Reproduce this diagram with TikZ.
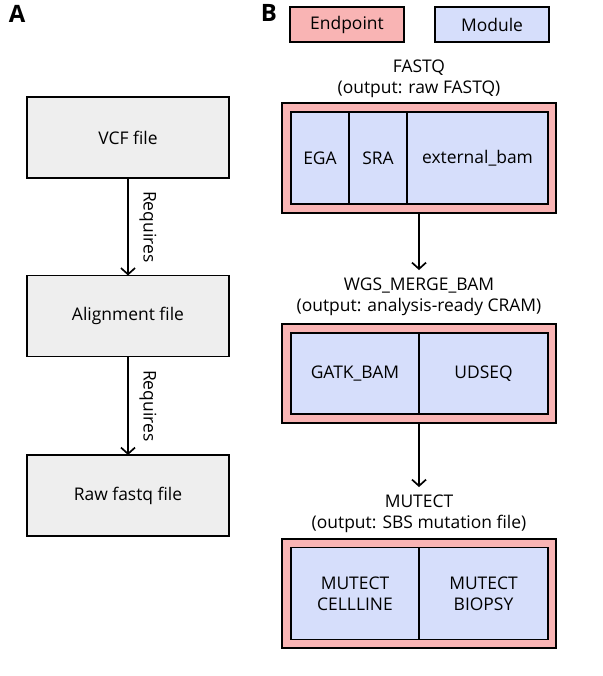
\documentclass[tikz,border=0pt]{standalone}
\usepackage{fontspec}
\setmainfont{Open Sans}
\usetikzlibrary{arrows.meta}
\definecolor{endpointred}{RGB}{249,180,180}
\definecolor{moduleblue}{RGB}{214,222,251}
\definecolor{stepgray}{RGB}{238,238,238}
\begin{document}
\begin{tikzpicture}[x=0.025cm,y=-0.025cm,
    font=\fontsize{12.4}{15}\selectfont,
    every node/.style={inner sep=0pt, outer sep=0pt},
    filebox/.style={draw, line width=0.8pt, fill=stepgray, minimum width=202*0.025cm, minimum height=81*0.025cm},
    endpoint/.style={draw, line width=0.8pt, fill=endpointred, minimum width=274*0.025cm},
    module/.style={draw, line width=0.8pt, fill=moduleblue, align=center},
    needs/.style={-{Straight Barb[length=4.5pt,width=10pt,line width=1.2pt]}, line width=1.3pt}
]
\useasboundingbox (0,0) rectangle (603,676);

% panel letters
\node[font=\fontsize{17}{17}\selectfont\bfseries] (A) at (17,14) {A};
\node[font=\fontsize{17}{17}\selectfont\bfseries] (B) at (269,13) {B};

% panel A
\node[filebox] (vcf) at (128,137.5) {VCF file};
\node[filebox] (align) at (128,316) {Alignment file};
\node[filebox] (raw) at (128,495.5) {Raw fastq file};
\draw[needs] (vcf) -- (align) node[midway, xshift=20*0.025cm, rotate=-90] {Requires};
\draw[needs] (align) -- (raw) node[midway, xshift=20*0.025cm, rotate=-90] {Requires};

% legend
\node[endpoint, minimum width=114*0.025cm, minimum height=35*0.025cm] (keyend) at (347,24.5) {Endpoint};
\node[module, minimum width=114*0.025cm, minimum height=35*0.025cm] (keymod) at (492,24.5) {Module};

% endpoints
\node[endpoint, minimum height=110*0.025cm] (fastq) at (419,158) {};
\node[endpoint, minimum height=99*0.025cm] (merge) at (419,373.5) {};
\node[endpoint, minimum height=109*0.025cm] (mutect) at (419,593.5) {};

\node[align=center] (fastqlab) at (419,79) {FASTQ\\(output: raw FASTQ)};
\node[align=center] (mergelab) at (419,297) {WGS\_MERGE\_BAM\\(output: analysis-ready CRAM)};
\node[align=center] (mutectlab) at (419,514) {MUTECT\\(output: SBS mutation file)};

% modules
\foreach \name/\cx/\w/\txt in {ega/320/58/EGA, sra/378/58/SRA, extbam/477.5/141/external\_bam}
    \node[module, minimum width=\w*0.025cm, minimum height=92*0.025cm] (\name) at (\cx,158) {\txt};
\foreach \name/\cx/\w/\txt in {gatk/355/128/GATK\_BAM, udseq/483.5/129/UDSEQ}
    \node[module, minimum width=\w*0.025cm, minimum height=81*0.025cm] (\name) at (\cx,373.5) {\txt};
\foreach \name/\cx/\w/\txt in {cellline/355/128/{MUTECT\\CELLLINE}, biopsy/483.5/129/{MUTECT\\BIOPSY}}
    \node[module, minimum width=\w*0.025cm, minimum height=92*0.025cm] (\name) at (\cx,593.5) {\txt};

\draw[needs] (fastq.south) -- ([yshift=8*0.025cm]mergelab.north);
\draw[needs] (merge.south) -- ([yshift=8*0.025cm]mutectlab.north);

\end{tikzpicture}
\end{document}
